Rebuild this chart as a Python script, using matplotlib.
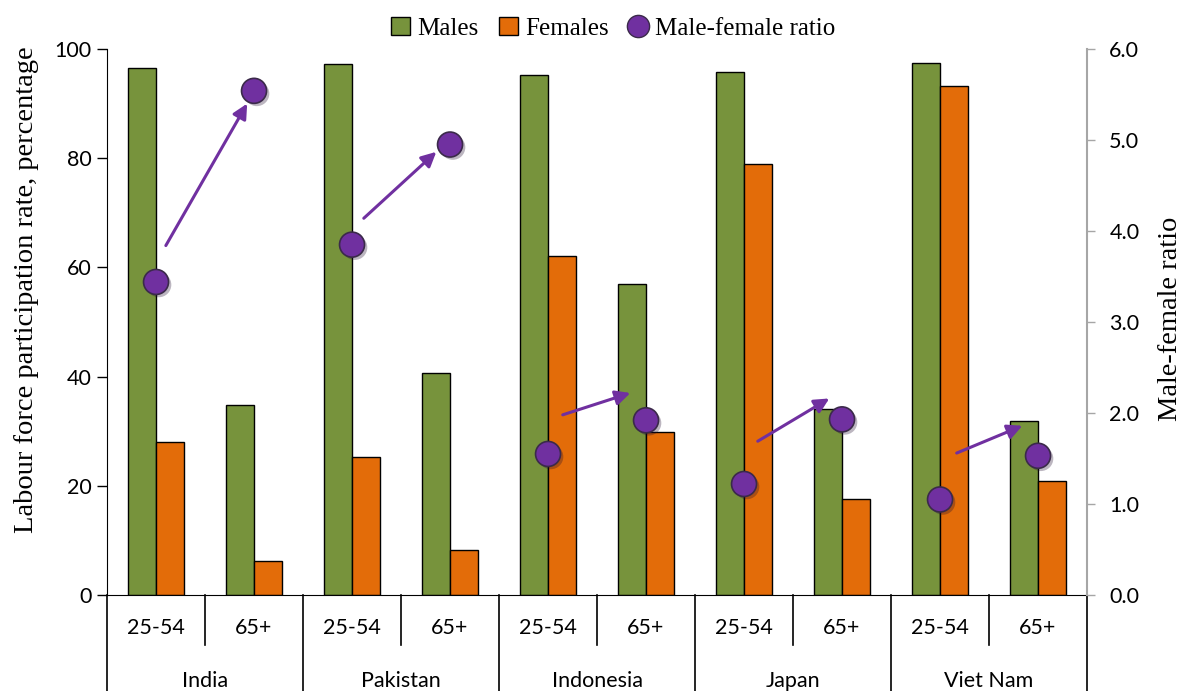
import matplotlib
matplotlib.use("Agg")
import matplotlib.pyplot as plt
import matplotlib.patheffects as pe
import matplotlib.transforms as mtransforms
from matplotlib.lines import Line2D
from matplotlib.patches import Patch
import numpy as np

# ---- data ----
countries = ["India", "Pakistan", "Indonesia", "Japan", "Viet Nam"]
age_groups = ["25-54", "65+"]
males = [96.5, 34.8, 97.2, 40.6, 95.3, 56.9, 95.7, 34.0, 97.4, 31.8]
females = [28.0, 6.2, 25.3, 8.2, 62.0, 29.8, 79.0, 17.6, 93.3, 20.8]
ratio = [3.44, 5.54, 3.85, 4.95, 1.55, 1.92, 1.22, 1.93, 1.05, 1.53]

# arrow placement relative to the two ratio points of each country (style only)
arrow_start = [(0.10, 0.40), (0.12, 0.29), (0.15, 0.43), (0.14, 0.47), (0.17, 0.51)]
arrow_end = [(-0.07, -0.14), (-0.14, -0.08), (-0.16, 0.30), (-0.13, 0.23), (-0.16, 0.33)]

GREEN = "#77933C"
ORANGE = "#E36C09"
PURPLE = "#7030A0"
SANS = ["Lato", "DejaVu Sans"]
SERIF = ["Liberation Serif", "DejaVu Serif"]

fig = plt.figure(figsize=(11.84, 6.91), dpi=100)
ax = fig.add_axes([0.0904, 0.1389, 0.8277, 0.7902])
ax2 = ax.twinx()

x = np.arange(len(males))
w = 0.286
ax.bar(x - w / 2, males, w, color=GREEN, edgecolor="black", linewidth=1.0, zorder=2)
ax.bar(x + w / 2, females, w, color=ORANGE, edgecolor="black", linewidth=1.0, zorder=2)

ax2.plot(x, ratio, "o", ms=18, color=PURPLE, mec="#3b2a4a", mew=1.2, zorder=3,
         path_effects=[pe.SimplePatchShadow(offset=(2, -2), alpha=0.3), pe.Normal()])

for k in range(len(countries)):
    i1, i2 = 2 * k, 2 * k + 1
    sx, sy = arrow_start[k]
    ex, ey = arrow_end[k]
    ax2.annotate("", xy=(x[i2] + ex, ratio[i2] + ey), xytext=(x[i1] + sx, ratio[i1] + sy),
                 arrowprops=dict(arrowstyle="-|>", color=PURPLE, lw=2.2,
                                 mutation_scale=22, shrinkA=0, shrinkB=0))

ax.set_xlim(-0.5, len(males) - 0.5)
ax.set_ylim(0, 100)
ax2.set_ylim(0, 6)
ax.set_yticks([0, 20, 40, 60, 80, 100])
ax2.set_yticks(np.arange(0, 6.01, 1.0))
ax2.set_yticklabels([f"{v:.1f}" for v in np.arange(0, 6.01, 1.0)])

ax.spines["top"].set_visible(False)
ax2.spines["top"].set_visible(False)
ax2.spines["left"].set_visible(False)
ax.spines["right"].set_visible(False)
ax2.spines["bottom"].set_visible(False)
ax2.spines["right"].set_color("#A6A6A6")
ax2.spines["right"].set_linewidth(1.5)

ax.tick_params(axis="y", length=7, width=1, direction="out", labelsize=15.5, pad=4)
ax2.tick_params(axis="y", length=6, width=1, colors="#A6A6A6", direction="out",
                labelsize=15.5, labelcolor="black", pad=10)
for lab in ax.get_yticklabels() + ax2.get_yticklabels():
    lab.set_family(SANS)

ax.set_ylabel("Labour force participation rate, percentage", family=SERIF, fontsize=20.5)
ax.yaxis.set_label_coords(-0.0694, 0.559)
ax2.set_ylabel("Male-female ratio", family=SERIF, fontsize=20.5)
ax2.yaxis.set_label_coords(1.0724, 0.505)

# multi-level category axis
ax.set_xticks([])
trans = mtransforms.blended_transform_factory(ax.transData, ax.transAxes)
for k in range(len(countries)):
    ax.plot([2 * k + 0.5] * 2, [0, -0.092], color="black", lw=1.2, transform=trans, clip_on=False)
for b in np.arange(-0.5, len(males), 2):
    ax.plot([b, b], [0, -0.2], color="black", lw=1.2, transform=trans, clip_on=False)
for i in range(len(males)):
    ax.text(x[i], -0.06, age_groups[i % 2], transform=trans, ha="center", va="center",
            family=SANS, fontsize=15.5)
for k, c in enumerate(countries):
    ax.text(2 * k + 0.5, -0.158, c, transform=trans, ha="center", va="center",
            family=SANS, fontsize=15.5)

handles = [
    Patch(facecolor=GREEN, edgecolor="black", label="Males"),
    Patch(facecolor=ORANGE, edgecolor="black", label="Females"),
    Line2D([], [], marker="o", ls="none", color=PURPLE, mec="#3b2a4a", ms=16, label="Male-female ratio"),
]
fig.legend(handles=handles, loc="upper center", bbox_to_anchor=(0.518, 1.008), ncol=3,
           frameon=False, prop={"family": SERIF, "size": 18}, handlelength=0.75,
           handleheight=0.75, handletextpad=0.3, columnspacing=0.8)

fig.savefig("out.png", dpi=100)
